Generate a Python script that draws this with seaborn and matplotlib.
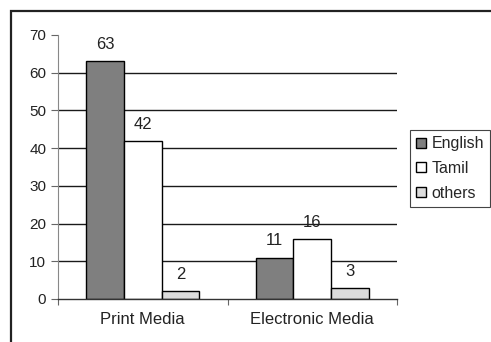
import matplotlib
matplotlib.use("Agg")
import matplotlib.pyplot as plt
from matplotlib.patches import Rectangle
import seaborn as sns
import pandas as pd

# Media usage counts by language
categories = ["Print Media", "Electronic Media"]
languages = ["English", "Tamil", "others"]
english = [63, 11]
tamil = [42, 16]
others = [2, 3]
colors = ["#7f7f7f", "#ffffff", "#dcdcdc"]

df = pd.DataFrame({
    "media": categories * 3,
    "language": ["English"] * 2 + ["Tamil"] * 2 + ["others"] * 2,
    "count": english + tamil + others,
})

sns.set_style("white")
plt.rcParams["font.family"] = ["Liberation Sans", "DejaVu Sans"]

fig = plt.figure(figsize=(4.91, 3.42), dpi=100)
ax = fig.add_axes([58 / 491, 1 - 299 / 342, (397 - 58) / 491, (299 - 35) / 342])

sns.barplot(data=df, x="media", y="count", hue="language", order=categories,
            hue_order=languages, palette=colors, saturation=1, width=0.667,
            edgecolor="black", linewidth=1.0, ax=ax, legend=True)

for cont in ax.containers:
    ax.bar_label(cont, fmt="%d", padding=6.5, fontsize=12, color="#222222")

ax.set_xlim(-0.5, 1.5)
ax.set_ylim(0, 70)
ax.set_yticks(range(0, 71, 10))
ax.set_xlabel("")
ax.set_ylabel("")

# Horizontal gridlines behind the bars
ax.set_axisbelow(True)
for v in range(10, 61, 10):
    ax.axhline(v, color="#1a1a1a", lw=1.0, zorder=0)

for side in ["top", "right"]:
    ax.spines[side].set_visible(False)
ax.spines["left"].set_color("#888888")
ax.spines["left"].set_linewidth(0.8)
ax.spines["bottom"].set_color("#333333")
ax.spines["bottom"].set_linewidth(1.0)

ax.tick_params(axis="y", which="major", length=5, width=0.8, color="#666666",
               direction="out", labelsize=11, labelcolor="#222222", left=True)
ax.tick_params(axis="x", which="major", length=0, pad=9, labelsize=12,
               labelcolor="#222222")
ax.set_xticks([-0.5, 0.5, 1.5], minor=True)
ax.tick_params(axis="x", which="minor", length=4, width=0.8, color="#666666",
               direction="out", bottom=True)

handles, labels = ax.get_legend_handles_labels()
ax.legend(handles, labels, loc="upper left",
          bbox_to_anchor=(410 / 491, 1 - 130 / 342), bbox_transform=fig.transFigure,
          frameon=True, fancybox=False, edgecolor="#444444", framealpha=1,
          fontsize=11.5, handlelength=0.6, handleheight=0.6, handletextpad=0.35,
          borderpad=0.4, labelspacing=0.6, borderaxespad=0)
ax.get_legend().get_frame().set_linewidth(0.8)

# Outer chart border
fig.patches.append(Rectangle((11 / 491, -0.1), 1.2, 1 - 11 / 342 + 0.1,
                             transform=fig.transFigure, fill=False,
                             edgecolor="#222222", linewidth=1.6))

fig.savefig("out.png", dpi=100)
